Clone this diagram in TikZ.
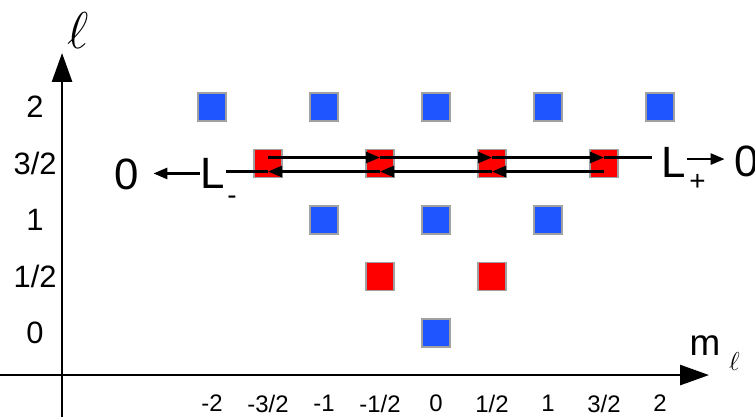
\RequirePackage{fix-cm}
\documentclass[tikz,border=0pt]{standalone}
\usepackage{fontspec}
\setmainfont{Liberation Sans}
\usetikzlibrary{arrows.meta}
\definecolor{sqblue}{RGB}{31,85,255}
\definecolor{sqred}{RGB}{255,0,0}
\definecolor{sqedge}{RGB}{160,160,160}

\begin{document}
\begin{tikzpicture}[x=112bp,y=113bp,
    sq/.style={draw=sqedge,line width=1.2bp,minimum size=28bp,inner sep=0pt},
    bluesq/.style={sq,fill=sqblue},
    redsq/.style={sq,fill=sqred},
    axis/.style={line width=2.8bp,-{Triangle[length=29bp,width=20bp]}},
    arr/.style={line width=2.6bp,-{Triangle[length=14bp,width=11bp]}},
    ln/.style={line width=2.6bp},
    biglabel/.style={font=\fontsize{44}{50}\selectfont,inner sep=1bp},
    sublabel/.style={font=\fontsize{28}{32}\selectfont,inner sep=0pt},
    ticklabel/.style={font=\fontsize{24}{28}\selectfont,inner sep=0pt},
    ylabel/.style={font=\fontsize{31}{36}\selectfont,inner sep=0pt}]
    \useasboundingbox (-3.893,-0.743) rectangle (2.848,2.947);
    \coordinate (ybot) at (-3.339,-0.76);
    \coordinate (ytop) at (-3.339,2.478);
    \coordinate (xleft) at (-3.92,-0.372);
    \coordinate (xright) at (2.4375,-0.372);
    \draw [axis] (ybot) -- (ytop);
    \draw [axis] (xleft) -- (xright);
    \node [font=\fontsize{52}{60}\selectfont,inner sep=0pt] (ell) at (-3.196,2.681) {$\ell$};
    \node [font=\fontsize{37}{42}\selectfont,inner sep=0pt] (mlab) at (2.402,-0.11) {m};
    \node [font=\fontsize{26}{30}\selectfont,inner sep=0pt] (mlsub) at (2.665,-0.248) {$\ell$};
    \foreach \t [count=\i] in {-2,-3/2,-1,-1/2,0,1/2,1,3/2,2}
        \node [ticklabel] (xl\i) at ({(\i-5)/2},-0.625) {\t};
    \foreach \t [count=\i] in {0,1/2,1,3/2,2}
        \node [ylabel] (yl\i) at (-3.58,{(\i-1)/2}) {\t};
    \foreach \m [count=\i] in {-2,-1,0,1,2}
        \node [bluesq] (bA\i) at (\m,2) {};
    \foreach \m [count=\i] in {-1.5,-0.5,0.5,1.5}
        \node [redsq] (r\i) at (\m,1.5) {};
    \foreach \m [count=\i] in {-1,0,1}
        \node [bluesq] (bB\i) at (\m,1) {};
    \foreach \m [count=\i] in {-0.5,0.5}
        \node [redsq] (rB\i) at (\m,0.5) {};
    \node [bluesq] (bC) at (0,0) {};
    \node [biglabel] (Lm) at (-1.991,1.412) {L};
    \node [sublabel] (Lmsub) at (-1.821,1.177) {-};
    \node [biglabel] (zl) at (-2.759,1.407) {0};
    \node [biglabel] (Lp) at (2.121,1.513) {L};
    \node [sublabel] (Lpsub) at (2.335,1.331) {+};
    \node [biglabel] (zr) at (2.777,1.522) {0};
    \foreach \i/\j in {1/2,2/3,3/4} {
        \draw [arr] ([yshift=6bp]r\i.center) -- ([yshift=6bp]r\j.center);
        \draw [arr] ([yshift=-8bp]r\j.center) -- ([yshift=-8bp]r\i.center);
    }
    \draw [ln,shorten >=8bp] ([yshift=6bp]r4.center) -- ([yshift=6bp]r4.center -| Lp.west);
    \draw [ln] ([yshift=-8bp]r1.center) -- ([yshift=-8bp]r1.center -| Lm.east);
    \draw [arr,shorten >=13bp] (Lm.west) -- (Lm.west -| zl.east);
    \draw [arr,shorten >=9bp] ([yshift=3bp]Lp.east) -- ([yshift=3bp]Lp.east -| zr.west);
\end{tikzpicture}
\end{document}
